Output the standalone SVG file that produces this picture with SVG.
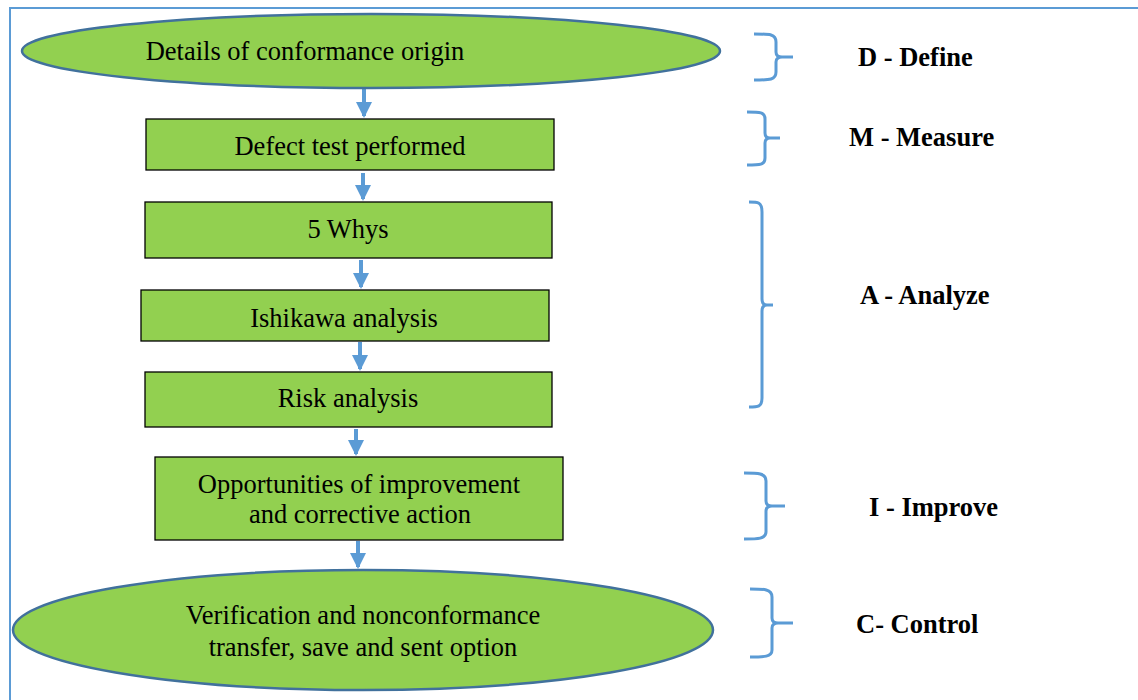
<svg xmlns="http://www.w3.org/2000/svg" width="1138" height="700" viewBox="0 0 1138 700">
<style>
.node{fill:#92D050;stroke:#000;stroke-width:1.3}
.ell{fill:#92D050;stroke:#41719C;stroke-width:2.5}
.t{font-family:"Liberation Serif","Times New Roman",serif;font-size:26.5px;fill:#000;text-anchor:middle}
.lbl{font-family:"Liberation Serif","Times New Roman",serif;font-size:26.5px;font-weight:bold;fill:#000}
.brace{fill:none;stroke:#5B9BD5;stroke-width:3}
.arr{stroke:#5B9BD5;stroke-width:4;fill:none}
</style>
<defs>
<marker id="ah" markerWidth="4" markerHeight="4" refX="3.5" refY="2" orient="auto" markerUnits="strokeWidth">
<path d="M0,0 L4,2 L0,4 Z" fill="#5B9BD5"/>
</marker>
</defs>
<rect x="0" y="0" width="1138" height="700" fill="#fff"/>
<path d="M10,700 L10,8 L1138,8" fill="none" stroke="#5B9BD5" stroke-width="2"/>
<g id="connectors">
<line class="arr" x1="364" y1="89" x2="364" y2="116" marker-end="url(#ah)"/>
<line class="arr" x1="363" y1="173" x2="363" y2="199" marker-end="url(#ah)"/>
<line class="arr" x1="361" y1="260" x2="361" y2="287" marker-end="url(#ah)"/>
<line class="arr" x1="360" y1="342" x2="360" y2="369" marker-end="url(#ah)"/>
<line class="arr" x1="356" y1="429" x2="356" y2="454" marker-end="url(#ah)"/>
<line class="arr" x1="358" y1="541" x2="358" y2="567" marker-end="url(#ah)"/>
</g>
<g id="n1">
<ellipse class="ell" cx="371" cy="51" rx="349" ry="37"/>
<text class="t" x="305" y="60">Details of conformance origin</text>
</g>
<g id="n2">
<rect class="node" x="146" y="119" width="408" height="51"/>
<text class="t" x="350" y="155">Defect test performed</text>
</g>
<g id="n3">
<rect class="node" x="145" y="202" width="407" height="56"/>
<text class="t" x="348" y="238">5 Whys</text>
</g>
<g id="n4">
<rect class="node" x="141" y="290" width="408" height="51"/>
<text class="t" x="344" y="327">Ishikawa analysis</text>
</g>
<g id="n5">
<rect class="node" x="145" y="372" width="407" height="55"/>
<text class="t" x="348" y="407">Risk analysis</text>
</g>
<g id="n6">
<rect class="node" x="155" y="457" width="408" height="83"/>
<text class="t" x="359" y="493">Opportunities of improvement</text>
<text class="t" x="360" y="523">and corrective action</text>
</g>
<g id="n7">
<ellipse class="ell" cx="363" cy="630" rx="350" ry="60"/>
<text class="t" x="363" y="624">Verification and nonconformance</text>
<text class="t" x="363" y="656">transfer, save and sent option</text>
</g>
<g id="braces">
<path class="brace" d="M754,34 C770,34 776,34 776,42 L776,52 Q776,57 782,57 L793,57 M782,57 Q776,57 776,62 L776,72 C776,80 770,80 754,80"/>
<path class="brace" d="M747,112 C760,112 765,112 765,119 L765,133 Q765,138 770,138 L780,138 M770,138 Q765,138 765,143 L765,158 C765,165 760,165 747,165"/>
<path class="brace" d="M749,202 C758,202 762,202 762,212 L762,299 Q762,305 767,305 L773,305 M767,305 Q762,305 762,311 L762,398 C762,407 758,407 749,407"/>
<path class="brace" d="M744,473 C758,473 766,473 766,481 L766,501 Q766,506 772,506 L785,506 M772,506 Q766,506 766,511 L766,532 C766,539 758,539 744,539"/>
<path class="brace" d="M750,589 C764,589 772,589 772,597 L772,618 Q772,623 778,623 L793,623 M778,623 Q772,623 772,628 L772,650 C772,657 764,657 750,657"/>
</g>
<g id="labels">
<text class="lbl" x="858" y="66">D - Define</text>
<text class="lbl" x="849" y="146">M - Measure</text>
<text class="lbl" x="860" y="304">A - Analyze</text>
<text class="lbl" x="869" y="516">I - Improve</text>
<text class="lbl" x="856" y="633">C- Control</text>
</g>
</svg>
